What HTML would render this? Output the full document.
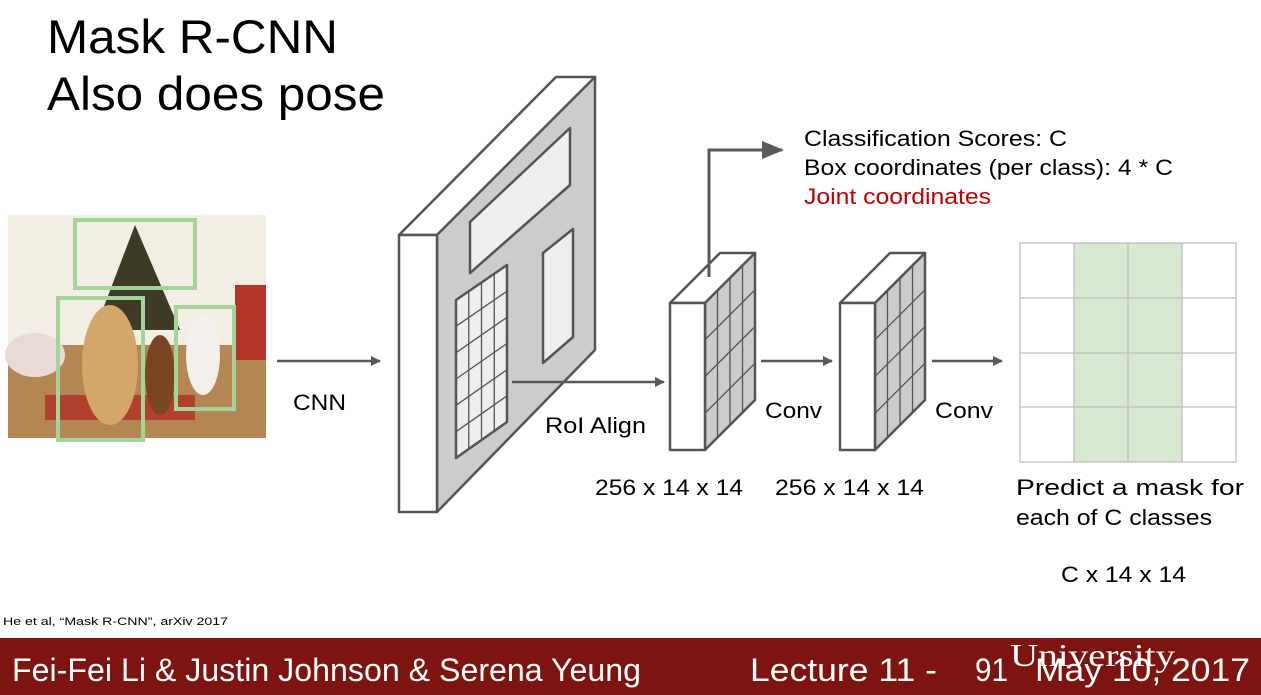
<!DOCTYPE html>
<html><head><meta charset="utf-8"><style>
body{margin:0;width:1261px;height:695px;overflow:hidden;background:#fff;font-family:"Liberation Sans",sans-serif}
svg{display:block}
</style></head><body>
<svg width="1261" height="695" viewBox="0 0 1261 695" xmlns="http://www.w3.org/2000/svg">
<defs><marker id="ah" markerWidth="10" markerHeight="10" refX="9" refY="5" orient="auto" markerUnits="userSpaceOnUse" viewBox="0 0 10 10"><path d="M0,0 L10,5 L0,10 z" fill="#595959"/></marker>
<marker id="ah2" markerWidth="22" markerHeight="18" refX="20" refY="9" orient="auto" markerUnits="userSpaceOnUse" viewBox="0 0 22 18"><path d="M0,0 L22,9 L0,18 z" fill="#595959"/></marker></defs>
<text x="47" y="53" font-size="47" textLength="291" lengthAdjust="spacingAndGlyphs">Mask R-CNN</text>
<text x="47" y="110" font-size="47" textLength="338" lengthAdjust="spacingAndGlyphs">Also does pose</text>
<!-- photo -->
<rect x="8" y="215" width="258" height="223" fill="#e9dcc6"/>
<rect x="8" y="215" width="258" height="130" fill="#f3eee4"/>
<rect x="8" y="345" width="258" height="93" fill="#b48654"/>
<polygon points="135,225 95,330 180,330" fill="#3d3b26"/>
<rect x="235" y="285" width="31" height="75" fill="#b43428"/>
<ellipse cx="35" cy="355" rx="30" ry="22" fill="#eadad6"/>
<rect x="45" y="395" width="150" height="25" fill="#b2402e"/>
<ellipse cx="110" cy="365" rx="28" ry="60" fill="#d3a66a"/>
<ellipse cx="160" cy="375" rx="15" ry="40" fill="#7a4522"/>
<ellipse cx="203" cy="355" rx="17" ry="40" fill="#f3f0ec"/>
<g fill="none" stroke="#a4d49a" stroke-width="4">
<rect x="75" y="220" width="120" height="68"/>
<rect x="58" y="298" width="85" height="142"/>
<rect x="176" y="307" width="58" height="102"/>
</g>
<line x1="277" y1="361" x2="380" y2="361" stroke="#595959" stroke-width="2.5" marker-end="url(#ah)"/>
<g font-size="22" lengthAdjust="spacingAndGlyphs">
<text x="293" y="410" textLength="53" lengthAdjust="spacingAndGlyphs">CNN</text>
<text x="545" y="433" textLength="101" lengthAdjust="spacingAndGlyphs">RoI Align</text>
<text x="765" y="418" textLength="57" lengthAdjust="spacingAndGlyphs">Conv</text>
<text x="935" y="418" textLength="58" lengthAdjust="spacingAndGlyphs">Conv</text>
<text x="595" y="495" textLength="148" lengthAdjust="spacingAndGlyphs">256 x 14 x 14</text>
<text x="775" y="495" textLength="149" lengthAdjust="spacingAndGlyphs">256 x 14 x 14</text>
<text x="804" y="146" textLength="263" lengthAdjust="spacingAndGlyphs">Classification Scores: C</text>
<text x="804" y="175" textLength="369" lengthAdjust="spacingAndGlyphs">Box coordinates (per class): 4 * C</text>
<text x="804" y="204" fill="#c00000" textLength="187" lengthAdjust="spacingAndGlyphs">Joint coordinates</text>
<text x="1016" y="495" textLength="228" lengthAdjust="spacingAndGlyphs">Predict a mask for</text>
<text x="1016" y="525" textLength="196" lengthAdjust="spacingAndGlyphs">each of C classes</text>
<text x="1061" y="582" textLength="125" lengthAdjust="spacingAndGlyphs">C x 14 x 14</text>
</g>
<!-- big block -->
<g stroke="#555" stroke-width="2.5" stroke-linejoin="round">
<polygon points="399,235 556,77 595,77 437,235" fill="#fff"/>
<polygon points="437,235 595,77 595,350 437,512" fill="#cccccc"/>
<rect x="399" y="235" width="38" height="277" fill="#fff"/>
<polygon points="470,222 570,128 570,185 470,273" fill="#eeeeee"/>
<polygon points="543,253 573,229 573,337 543,363" fill="#eeeeee"/>
<polygon points="456,300 507,265 507,422 456,458" fill="#eeeeee"/>
</g>
<g stroke="#555" stroke-width="1.3">
<line x1="468.75" y1="291.25" x2="468.75" y2="449.25"/><line x1="481.5" y1="282.5" x2="481.5" y2="440"/><line x1="494.25" y1="273.75" x2="494.25" y2="431.25"/>
<line x1="456" y1="326.3" x2="507" y2="291.2"/><line x1="456" y1="352.7" x2="507" y2="317.3"/><line x1="456" y1="379" x2="507" y2="343.5"/><line x1="456" y1="405.3" x2="507" y2="369.7"/><line x1="456" y1="431.7" x2="507" y2="395.8"/>
</g>
<line x1="512" y1="382" x2="664" y2="382" stroke="#595959" stroke-width="2.5" marker-end="url(#ah)"/>
<!-- small blocks -->
<g id="sb">
<g stroke="#555" stroke-width="2.5" stroke-linejoin="round">
<polygon points="670,303 720,253 755,253 705,303" fill="#fff"/>
<polygon points="705,303 755,253 755,400 705,450" fill="#cccccc"/>
<rect x="670" y="303" width="35" height="147" fill="#fff"/>
</g>
<g stroke="#555" stroke-width="1.3">
<line x1="717.5" y1="290.5" x2="717.5" y2="437.5"/><line x1="730" y1="278" x2="730" y2="425"/><line x1="742.5" y1="265.5" x2="742.5" y2="412.5"/>
<line x1="705" y1="339.75" x2="755" y2="289.75"/><line x1="705" y1="376.5" x2="755" y2="326.5"/><line x1="705" y1="413.25" x2="755" y2="363.25"/>
</g>
</g>
<use href="#sb" transform="translate(170,0)"/>
<polyline points="709,277 709,150 782,150" fill="none" stroke="#595959" stroke-width="3" marker-end="url(#ah2)"/>
<line x1="761" y1="361" x2="832" y2="361" stroke="#595959" stroke-width="2.5" marker-end="url(#ah)"/>
<line x1="932" y1="361" x2="1002" y2="361" stroke="#595959" stroke-width="2.5" marker-end="url(#ah)"/>
<!-- mask grid -->
<rect x="1074" y="243" width="108" height="219" fill="#d8e9d2"/>
<g stroke="#bdbdbd" stroke-width="1.3" fill="none">
<rect x="1020" y="243" width="216" height="219"/>
<line x1="1074" y1="243" x2="1074" y2="462"/><line x1="1128" y1="243" x2="1128" y2="462"/><line x1="1182" y1="243" x2="1182" y2="462"/>
<line x1="1020" y1="298" x2="1236" y2="298"/><line x1="1020" y1="353" x2="1236" y2="353"/><line x1="1020" y1="407" x2="1236" y2="407"/>
</g>
<text x="3" y="625" font-size="11" textLength="225" lengthAdjust="spacingAndGlyphs">He et al, “Mask R-CNN”, arXiv 2017</text>
<rect x="0" y="638" width="1261" height="57" fill="#7e1410"/>
<g font-size="32" fill="#fff">
<text x="12" y="681" textLength="629" lengthAdjust="spacingAndGlyphs">Fei-Fei Li &amp; Justin Johnson &amp; Serena Yeung</text>
<text x="750" y="681" textLength="187" lengthAdjust="spacingAndGlyphs">Lecture 11 -</text>
<text x="975" y="681" textLength="33" lengthAdjust="spacingAndGlyphs">91</text>
<text x="1035" y="681" textLength="215" lengthAdjust="spacingAndGlyphs">May 10, 2017</text>
<text x="1010" y="666" font-family="Liberation Serif, serif" textLength="165" lengthAdjust="spacingAndGlyphs">University</text>
</g>
</svg>
</body></html>
